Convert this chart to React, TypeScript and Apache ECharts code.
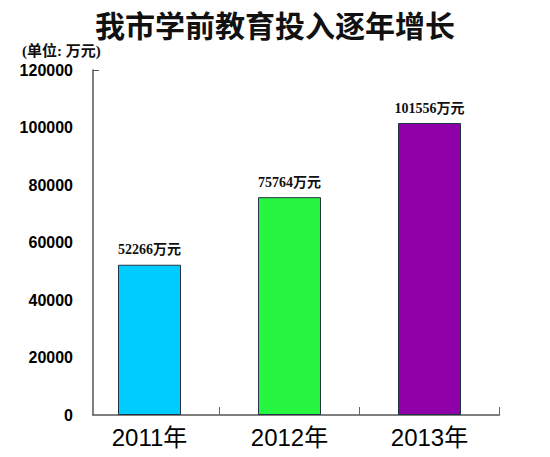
import React, { useEffect, useRef } from 'react';
import * as echarts from 'echarts';

const years = ['2011年', '2012年', '2013年'];
const investment = [52266, 75764, 101556];
const barColors = ['#00CCFF', '#26F542', '#9000A8'];
const yTicks = [0, 20000, 40000, 60000, 80000, 100000, 120000];

const TITLE = '我市学前教育投入逐年增长';
const UNIT = '(单位: 万元)';

export default function App() {
  const chartRef = useRef<HTMLDivElement | null>(null);

  useEffect(() => {
    if (!chartRef.current) return;
    const inst = echarts.init(chartRef.current, undefined, { renderer: 'svg' });
    const yMax = yTicks[yTicks.length - 1];
    inst.setOption({
      animation: false,
      backgroundColor: '#fff',
      title: [
        {
          text: TITLE,
          left: 'center',
          top: 4,
          textStyle: {
            fontSize: 30,
            fontWeight: 'bold',
            color: '#111',
            fontFamily: '"Noto Sans CJK SC", sans-serif',
          },
        },
        {
          text: UNIT,
          left: 17,
          top: 38,
          textStyle: {
            fontSize: 15,
            fontWeight: 'bold',
            color: '#111',
            fontFamily: '"Liberation Serif", "Noto Sans CJK SC", serif',
          },
        },
      ],
      grid: [
        { left: 79.5, right: 50.5, top: 70, bottom: 42 },
        { left: 93, right: 50.5, top: 70, bottom: 42 },
      ],
      xAxis: [
        {
          type: 'category',
          gridIndex: 0,
          data: years,
          axisLine: { show: false },
          axisTick: { show: false },
          axisLabel: {
            color: '#000',
            fontSize: 24,
            margin: 10,
            fontFamily: '"Liberation Sans", "Noto Sans CJK SC", sans-serif',
          },
        },
        {
          type: 'value',
          gridIndex: 1,
          min: 13.5 / 140,
          max: 3,
          axisLine: { show: true, lineStyle: { color: '#555', width: 1.5 } },
          axisTick: { show: true, inside: true, length: 8, customValues: [1, 2, 3], lineStyle: { color: '#666' } },
          axisLabel: { show: false },
          splitLine: { show: false },
        },
      ],
      yAxis: [
        { type: 'value', gridIndex: 0, min: 0, max: yMax, show: false },
        {
          type: 'value',
          gridIndex: 1,
          min: 0,
          max: yMax,
          interval: 20000,
          axisLine: { show: true, lineStyle: { color: '#555', width: 1.5 } },
          axisTick: { show: true, inside: true, length: 6, customValues: [yMax], lineStyle: { color: '#555' } },
          axisLabel: {
            color: '#000',
            fontSize: 16,
            fontWeight: 'bold',
            margin: 20,
            formatter: (v: number) => String(v),
            fontFamily: '"Liberation Sans", Arial, sans-serif',
          },
          splitLine: { show: false },
        },
      ],
      series: [
        {
          type: 'bar',
          xAxisIndex: 0,
          yAxisIndex: 0,
          barWidth: 63,
          data: investment.map((v, i) => ({
            value: v,
            itemStyle: { color: barColors[i], borderColor: '#223344', borderWidth: 1 },
          })),
          label: {
            show: true,
            position: 'top',
            distance: 8,
            formatter: '{c}万元',
            color: '#111',
            fontSize: 14,
            fontWeight: 'bold',
            fontFamily: '"Liberation Serif", "Noto Sans CJK SC", serif',
          },
        },
      ],
    });
    return () => inst.dispose();
  }, []);

  return (
    <div
      ref={chartRef}
      style={{ position: 'fixed', left: 0, top: 0, width: 550, height: 457 }}
    />
  );
}
